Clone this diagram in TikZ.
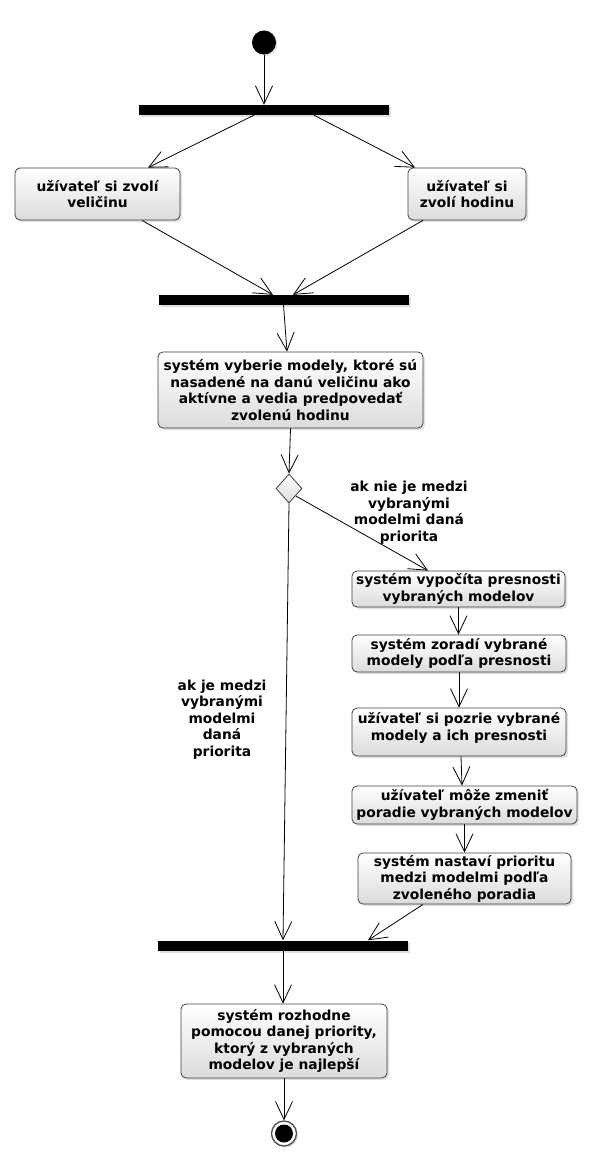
\documentclass[tikz,border=0pt]{standalone}
\usepackage{fontspec}
\setmainfont{DejaVu Sans}
\usetikzlibrary{shapes.geometric, arrows.meta, shadows, calc}
\tikzstyle{act} = [rectangle, rounded corners=5pt, draw=black!75, line width=0.8pt,
top color=white, bottom color=black!14, align=center, inner sep=0pt,
font=\fontsize{13.8}{16.5}\selectfont\bfseries,
drop shadow={opacity=0.25, shadow xshift=2pt, shadow yshift=-2pt}]
\tikzstyle{bar} = [rectangle, fill=black, minimum width=250pt, minimum height=10pt,
inner sep=0pt, drop shadow={opacity=0.25, shadow xshift=2pt, shadow yshift=-2pt}]
\tikzstyle{decision} = [diamond, draw=black!75, line width=0.8pt, top color=white,
bottom color=black!14, minimum width=26pt, minimum height=29pt, inner sep=0pt]
\tikzstyle{lbl} = [align=center, inner sep=0pt, font=\fontsize{13.8}{16.5}\selectfont\bfseries]
\tikzstyle{arrow} = [line width=0.8pt, -{Straight Barb[length=18pt, width=17pt]}]

\begin{document}
\begin{tikzpicture}[x=1pt, y=-1pt]

      \useasboundingbox (0,0) rectangle (592,1161);

      \node (START) [circle, fill=black, minimum size=24pt, inner sep=0pt,
        drop shadow={opacity=0.25, shadow xshift=1.5pt, shadow yshift=-1.5pt}] at (264,42.5) {};
      \node (F1) [bar] at (264,110) {};

      \node (VEL) [act, minimum width=165pt, minimum height=52pt] at (97.5,194) {užívateľ si zvolí\\ veličinu};
      \node (HOD) [act, minimum width=118pt, minimum height=52pt] at (467,194) {užívateľ si\\ zvolí hodinu};

      \node (J1) [bar] at (283.5,300) {};

      \node (SVM) [act, minimum width=265pt, minimum height=76pt] at (290.5,390) {systém vyberie modely, ktoré sú\\ nasadené na danú veličinu ako\\ aktívne a vedia predpovedať\\ zvolenú hodinu};

      \node (D) [decision] at (289,488.5) {};

      \node (LNIE) [lbl] at (409,512.5) {ak nie je medzi\\ vybranými\\ modelmi daná\\ priorita};
      \node (LJE) [lbl] at (222,719.5) {ak je medzi\\ vybranými\\ modelmi\\ daná\\ priorita};

      \node (PRES) [act, minimum width=213pt, minimum height=36pt] at (458.5,589) {systém vypočíta presnosti\\ vybraných modelov};
      \node (ZOR) [act, minimum width=214pt, minimum height=37pt] at (459,653.5) {systém zoradí vybrané\\ modely podľa presnosti};
      \node (POZ) [act, minimum width=214pt, minimum height=48pt] at (459,732) {užívateľ si pozrie vybrané\\ modely a ich presnosti\\[-5pt]\mbox{}};
      \node (ZMEN) [act, minimum width=225pt, minimum height=38pt] at (464.5,805) {užívateľ môže zmeniť\\ poradie vybraných modelov};
      \node (NAST) [act, minimum width=213pt, minimum height=51pt] at (464.5,878.5) {systém nastaví prioritu\\ medzi modelmi podľa\\ zvoleného poradia};

      \node (J2) [bar] at (283,945.5) {};

      \node (ROZ) [act, minimum width=206pt, minimum height=74pt] at (284,1041) {systém rozhodne\\ pomocou danej priority,\\ ktorý z vybraných\\ modelov je najlepší};

      \node (END) [circle, draw=black!70, line width=1.3pt, fill=white, minimum size=25pt, inner sep=0pt,
        drop shadow={opacity=0.25, shadow xshift=1.5pt, shadow yshift=-1.5pt}] at (284,1133.5) {};
      \node (ENDIN) [circle, fill=black, minimum size=18pt, inner sep=0pt] at (END.center) {};

      \draw [arrow] (START) -- (F1);
      \draw [arrow] ([xshift=-10pt]F1.south) -- ([xshift=50.5pt]VEL.north);
      \draw [arrow] ([xshift=50pt]F1.south) -- ([xshift=-52pt]HOD.north);
      \draw [arrow] ([xshift=44.5pt]VEL.south) -- ([xshift=-10.5pt]J1.north);
      \draw [arrow] ([xshift=-44pt]HOD.south) -- ([xshift=9.5pt]J1.north);
      \draw [arrow] (J1.south) -- ([xshift=-3.5pt]SVM.north);
      \draw [arrow] (SVM.south) -- (D.north);

      \draw [arrow] ($(D.east)!0.5!(D.south)$) -- ([xshift=-30.5pt]PRES.north);
      \draw [arrow] (D.south) -- (J2.north);

      \draw [arrow] (PRES.south) -- (PRES.south |- ZOR.north);
      \draw [arrow] (ZOR.south) -- (ZOR.south |- POZ.north);
      \draw [arrow] ([xshift=2pt]POZ.south) -- ([xshift=-2.5pt]ZMEN.north);
      \draw [arrow] (ZMEN.south) -- (NAST.north);
      \draw [arrow] ([xshift=-41.5pt]NAST.south) -- ([xshift=85pt]J2.north);

      \draw [arrow] (J2.south) -- (J2.south |- ROZ.north);
      \draw [arrow] (ROZ.south) -- (END.north);

\end{tikzpicture}
\end{document}
